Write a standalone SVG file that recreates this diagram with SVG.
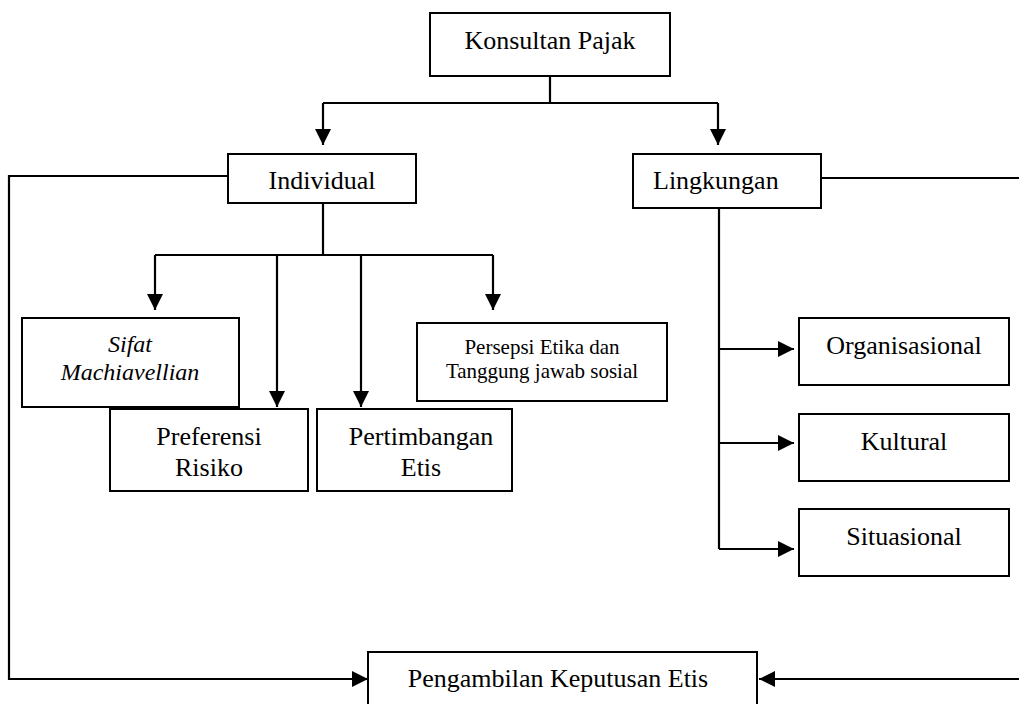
<svg xmlns="http://www.w3.org/2000/svg" width="1019" height="704" viewBox="0 0 1019 704">
<style>
.box{fill:#fff;stroke:#000;stroke-width:2}
.t{font-family:'Liberation Serif','Times New Roman',Tinos,'DejaVu Serif',serif;font-size:26px;fill:#000;text-anchor:middle}
.c{fill:none;stroke:#000;stroke-width:2.2}
.a{marker-end:url(#ah)}
</style>
<defs>
<marker id="ah" markerUnits="userSpaceOnUse" markerWidth="16" markerHeight="16" refX="16" refY="8" orient="auto">
<path d="M0,0 L16,8 L0,16 z" fill="#000"/>
</marker>
</defs>
<rect width="1019" height="704" fill="#fff"/>
<g id="connectors">
<path class="c" d="M550,76 V103"/>
<path class="c" d="M323,103 H718"/>
<path class="c a" d="M323,103 V145"/>
<path class="c a" d="M718,103 V145"/>
<path class="c" d="M323,203 V255"/>
<path class="c" d="M155,255 H493"/>
<path class="c a" d="M155,255 V310"/>
<path class="c a" d="M277,255 V407"/>
<path class="c a" d="M361,255 V407"/>
<path class="c a" d="M493,255 V310"/>
<path class="c" d="M719,208 V549"/>
<path class="c a" d="M719,349 H794"/>
<path class="c a" d="M719,443 H794"/>
<path class="c a" d="M719,549 H794"/>
<path class="c a" d="M228,176 H9 V679 H368"/>
<path class="c a" d="M821,178 H1021 V679 H759"/>
</g>
<g id="konsultan"><rect class="box" x="430" y="13" width="240" height="63"/><text class="t" x="550" y="49" font-family="Liberation Serif, serif">Konsultan Pajak</text></g>
<g id="individual"><rect class="box" x="228" y="154" width="188" height="49"/><text class="t" x="322" y="189">Individual</text></g>
<g id="lingkungan"><rect class="box" x="633" y="154" width="188" height="54"/><text class="t" x="653" y="189" style="text-anchor:start">Lingkungan</text></g>
<g id="sifat"><rect class="box" x="22" y="318" width="217" height="89"/><text class="t" x="130" y="352" style="font-style:italic;font-size:24px">Sifat</text><text class="t" x="130" y="380" style="font-style:italic;font-size:24px">Machiavellian</text></g>
<g id="persepsi"><rect class="box" x="417" y="323" width="250" height="78"/><text class="t" x="542" y="354" style="font-size:21px">Persepsi Etika dan</text><text class="t" x="542" y="378" style="font-size:21px">Tanggung jawab sosial</text></g>
<g id="preferensi"><rect class="box" x="110" y="409" width="198" height="82"/><text class="t" x="209" y="445">Preferensi</text><text class="t" x="209" y="476">Risiko</text></g>
<g id="pertimbangan"><rect class="box" x="317" y="409" width="195" height="82"/><text class="t" x="421" y="445">Pertimbangan</text><text class="t" x="421" y="476">Etis</text></g>
<g id="organisasional"><rect class="box" x="799" y="318" width="210" height="67"/><text class="t" x="904" y="354">Organisasional</text></g>
<g id="kultural"><rect class="box" x="799" y="414" width="210" height="67"/><text class="t" x="904" y="450">Kultural</text></g>
<g id="situasional"><rect class="box" x="799" y="509" width="210" height="67"/><text class="t" x="904" y="545">Situasional</text></g>
<g id="pengambilan"><rect class="box" x="368" y="652" width="389" height="60"/><text class="t" x="558" y="687">Pengambilan Keputusan Etis</text></g>
</svg>
